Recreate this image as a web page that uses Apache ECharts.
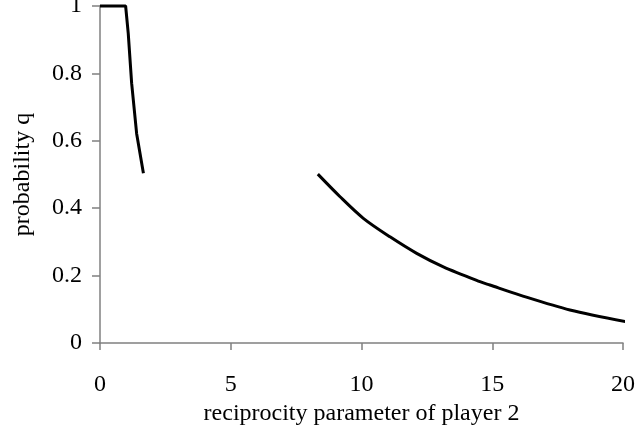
<!DOCTYPE html>
<html>
<head>
<meta charset="utf-8">
<script src="https://cdn.jsdelivr.net/npm/echarts@6/dist/echarts.min.js"></script>
<style>
html,body{margin:0;padding:0;background:#fff;}
#chart{width:637px;height:429px;}
</style>
</head>
<body>
<div id="chart"></div>
<script>
// 读图得到的数据点
var seg1X = [0, 0.98, 1.08, 1.21, 1.40, 1.66];
var seg1Y = [1, 1, 0.919, 0.771, 0.622, 0.504];
var seg2X = [8.33, 9.18, 10.07, 11.09, 12.11, 13.13, 14.53, 14.91, 16.06, 17.97, 20.27];
var seg2Y = [0.501, 0.434, 0.370, 0.315, 0.266, 0.226, 0.182, 0.172, 0.142, 0.098, 0.061];
var xTicks = [0, 5, 10, 15, 20];
var yTicks = [0, 0.2, 0.4, 0.6, 0.8, 1];

function pairs(xs, ys){
    var out = [];
    for (var i = 0; i < xs.length; i++) out.push([xs[i], ys[i]]);
    return out;
}

var chart = echarts.init(document.getElementById('chart'));
var font = 'Liberation Serif, Times New Roman, serif';
var option = {
    animation: false,
    grid: {left: 100, right: 14, top: 6, bottom: 86, containLabel: false, outerBoundsMode: 'none'},
    xAxis: {
        type: 'value',
        min: xTicks[0], max: xTicks[xTicks.length - 1], interval: 5,
        name: 'reciprocity parameter of player 2',
        nameLocation: 'middle', nameGap: 49,
        nameTextStyle: {fontFamily: font, fontSize: 24, color: '#000'},
        axisLine: {lineStyle: {color: '#808080', width: 1.5}},
        axisTick: {length: 7, lineStyle: {color: '#808080', width: 1.5}},
        axisLabel: {fontFamily: font, fontSize: 24, color: '#000', margin: 30},
        splitLine: {show: false}
    },
    yAxis: {
        type: 'value',
        min: yTicks[0], max: yTicks[yTicks.length - 1], interval: 0.2,
        name: 'probability q',
        nameLocation: 'middle', nameGap: 65,
        nameTextStyle: {fontFamily: font, fontSize: 24, color: '#000'},
        axisLine: {show: true, lineStyle: {color: '#808080', width: 1.5}},
        axisTick: {show: true, length: 8, lineStyle: {color: '#808080', width: 1.5}},
        axisLabel: {fontFamily: font, fontSize: 24, color: '#000', margin: 18,
            formatter: function(v){ return String(+v.toFixed(1)); }},
        splitLine: {show: false}
    },
    series: [
        {type: 'line', data: pairs(seg1X, seg1Y), symbol: 'none', clip: false,
         lineStyle: {color: '#000', width: 3}},
        {type: 'line', data: pairs(seg2X, seg2Y), symbol: 'none', clip: false, smooth: 0.3,
         lineStyle: {color: '#000', width: 3}}
    ]
};
chart.setOption(option);
</script>
</body>
</html>
